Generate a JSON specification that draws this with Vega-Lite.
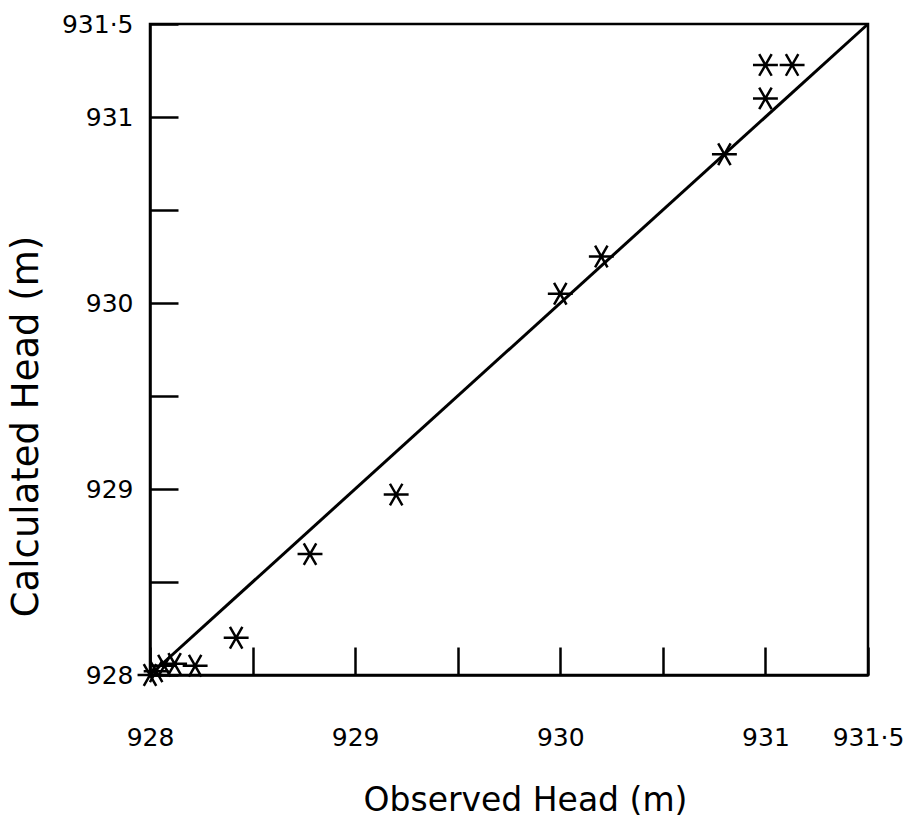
{
  "$schema": "https://vega.github.io/schema/vega-lite/v6.json",
  "autosize": "none",
  "width": 718,
  "height": 651,
  "padding": {"left": 150, "top": 24, "right": 50, "bottom": 160},
  "background": "white",
  "config": {
    "view": {"stroke": "black", "strokeWidth": 2.5},
    "font": "DejaVu Sans",
    "axis": {
      "domainColor": "black", "domainWidth": 2.5,
      "tickColor": "black", "tickWidth": 2.5, "tickSize": -28,
      "grid": false,
      "labelFont": "DejaVu Sans", "labelFontSize": 25, "labelColor": "black",
      "titleFont": "DejaVu Sans", "titleFontSize": 33, "titleFontWeight": "normal", "titleColor": "black"
    }
  },
  "datasets": {
    "points": [
      {"observed": 928.0, "calculated": 928.0},
      {"observed": 928.03, "calculated": 928.02},
      {"observed": 928.07, "calculated": 928.05},
      {"observed": 928.12, "calculated": 928.06},
      {"observed": 928.22, "calculated": 928.05},
      {"observed": 928.42, "calculated": 928.2},
      {"observed": 928.78, "calculated": 928.65},
      {"observed": 929.2, "calculated": 928.97},
      {"observed": 930.0, "calculated": 930.05},
      {"observed": 930.2, "calculated": 930.25},
      {"observed": 930.8, "calculated": 930.8},
      {"observed": 931.0, "calculated": 931.1},
      {"observed": 931.0, "calculated": 931.28},
      {"observed": 931.13, "calculated": 931.28}
    ],
    "line": [
      {"observed": 928.0, "calculated": 928.0},
      {"observed": 931.5, "calculated": 931.5}
    ]
  },
  "encoding": {
    "x": {
      "field": "observed", "type": "quantitative",
      "scale": {"domain": [928, 931.5], "nice": false, "zero": false},
      "axis": {
        "title": "Observed Head (m)",
        "titleX": 375,
        "values": [928, 928.5, 929, 929.5, 930, 930.5, 931, 931.5],
        "labelExpr": "datum.value == 931.5 ? '931·5' : (datum.value % 1 == 0 ? format(datum.value, 'd') : '')",
        "labelPadding": 78,
        "labelFlush": false,
        "titlePadding": 34
      }
    },
    "y": {
      "field": "calculated", "type": "quantitative",
      "scale": {"domain": [928, 931.5], "nice": false, "zero": false},
      "axis": {
        "title": "Calculated Head (m)",
        "titleFontSize": 37,
        "titleY": 402,
        "values": [928, 928.5, 929, 929.5, 930, 930.5, 931, 931.5],
        "labelExpr": "datum.value == 931.5 ? '931·5' : (datum.value % 1 == 0 ? format(datum.value, 'd') : '')",
        "labelPadding": 45,
        "labelFlush": false,
        "titlePadding": 16
      }
    }
  },
  "layer": [
    {
      "data": {"name": "line"},
      "mark": {"type": "line", "color": "black", "strokeWidth": 3}
    },
    {
      "data": {"name": "points"},
      "mark": {
        "type": "point",
        "shape": "M-1,0L1,0M-0.5,-0.87L0.5,0.87M0.5,-0.87L-0.5,0.87",
        "filled": false, "stroke": "black", "strokeWidth": 2.5, "size": 620, "opacity": 1
      }
    }
  ]
}
